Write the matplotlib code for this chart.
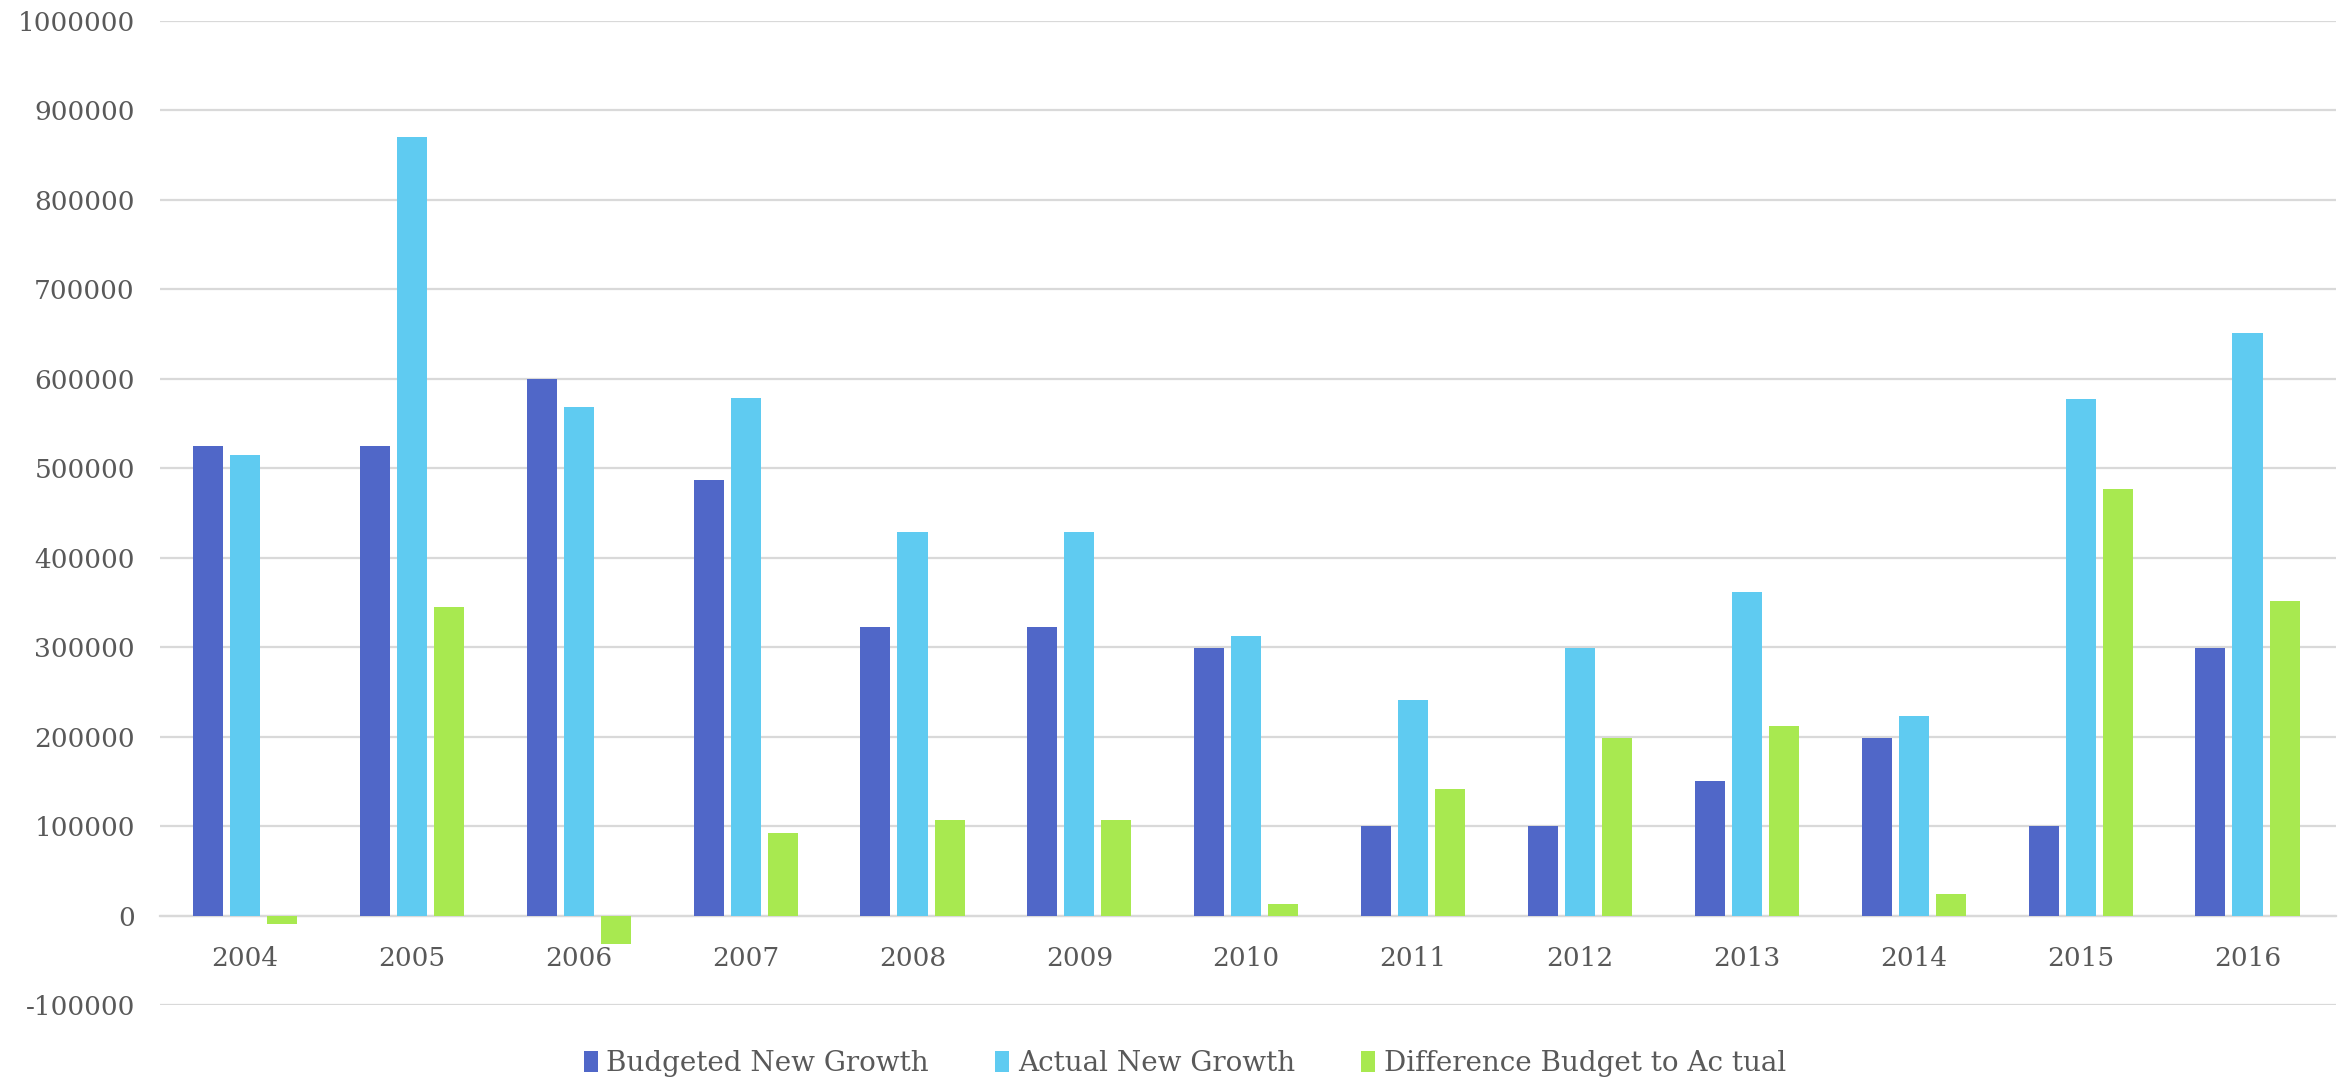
import numpy as np
import matplotlib
matplotlib.use("Agg")
import matplotlib.pyplot as plt
from matplotlib.ticker import FuncFormatter

# data
years = ["2004", "2005", "2006", "2007", "2008", "2009", "2010",
         "2011", "2012", "2013", "2014", "2015", "2016"]
budgeted = [525000, 525000, 600000, 487000, 322000, 322000, 299000,
            100000, 100000, 150000, 199000, 100000, 299000]
actual = [515000, 870000, 568000, 579000, 429000, 429000, 312000,
          241000, 299000, 362000, 223000, 577000, 651000]
difference = [-10000, 345000, -32000, 92000, 107000, 107000, 13000,
              141000, 199000, 212000, 24000, 477000, 352000]
labels = ["Budgeted New Growth", "Actual New Growth", "Difference Budget to Ac tual"]
colors = ["#5067C8", "#5FCBF1", "#A8E950"]

plt.rcParams['font.family'] = ['DejaVu Serif']
text_color = "#595959"

fig = plt.figure(figsize=(23.51, 10.82), dpi=100)
ax = fig.add_axes([0.068, 0.0712, 0.9256, 0.9094])

x = np.arange(len(years))
w = 0.18
step = 0.222
for i, (vals, lab, col) in enumerate(zip([budgeted, actual, difference], labels, colors)):
    ax.bar(x + (i - 1) * step, vals, width=w, color=col, label=lab, zorder=3)

ax.set_xlim(-0.51, len(years) - 0.47)
ax.set_ylim(-100000, 1000000)
ax.set_yticks(np.arange(-100000, 1000001, 100000))
ax.yaxis.set_major_formatter(FuncFormatter(lambda v, p: "%d" % round(v)))
ax.yaxis.grid(True, color="#D9D9D9", linewidth=1.6, zorder=0)
ax.set_axisbelow(True)

for s in ["top", "right", "left"]:
    ax.spines[s].set_visible(False)
ax.spines["bottom"].set_position(("data", 0))
ax.spines["bottom"].set_color("#D9D9D9")
ax.spines["bottom"].set_linewidth(1.6)
ax.spines["bottom"].set_zorder(2)

ax.set_xticks(x)
ax.set_xticklabels(years)
ax.tick_params(axis="x", length=0, pad=22, labelsize=19, labelcolor=text_color)
ax.tick_params(axis="y", length=0, pad=18, labelsize=19, labelcolor=text_color)

leg = fig.legend(loc="center", bbox_to_anchor=(0.504, 0.017), ncol=3, frameon=False,
                 fontsize=20, handlelength=0.5, handleheight=0.8, handletextpad=0.3,
                 columnspacing=2.4)
for t in leg.get_texts():
    t.set_color(text_color)

fig.savefig("out.png", dpi=100)
